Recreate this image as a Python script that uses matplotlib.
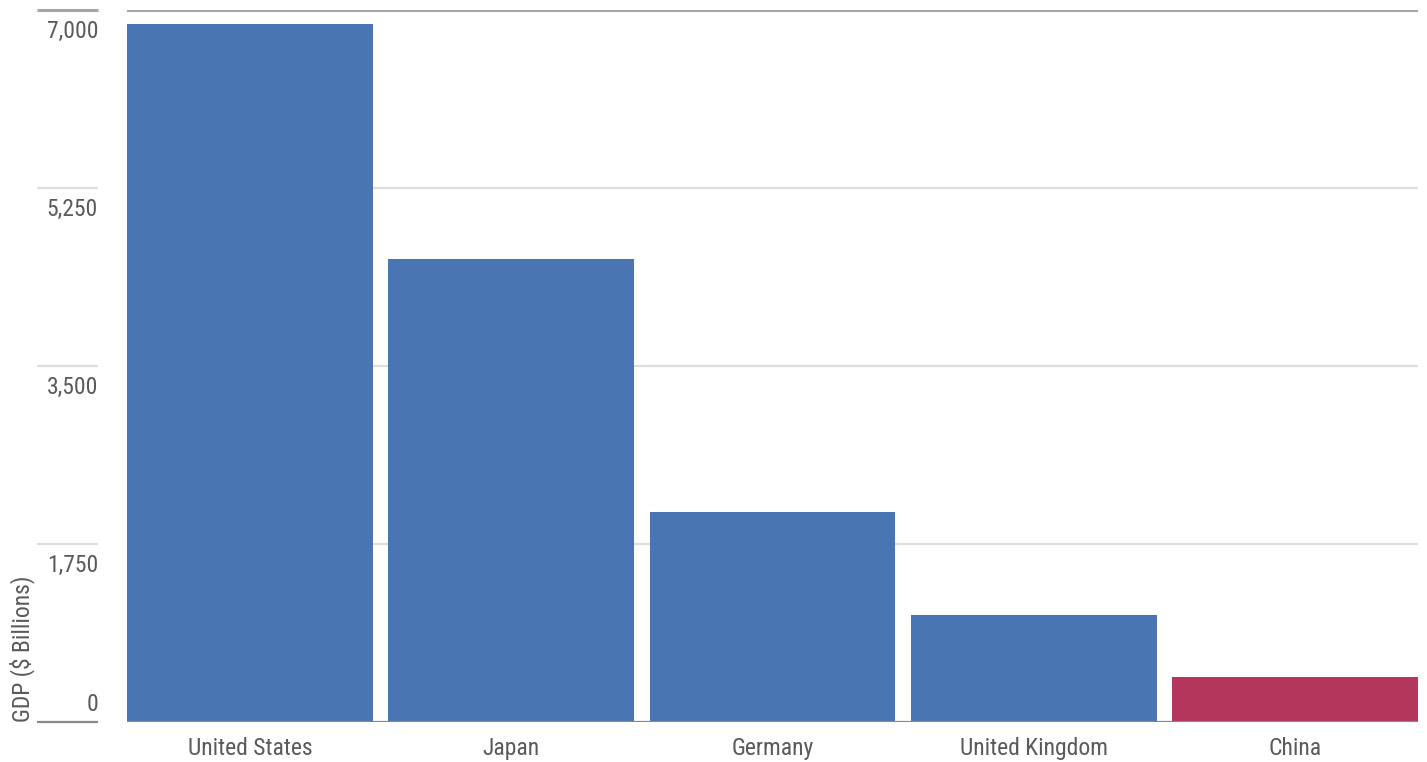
import matplotlib
matplotlib.use("Agg")
import matplotlib.pyplot as plt
from matplotlib.transforms import blended_transform_factory
from matplotlib import font_manager

countries = ["United States", "Japan", "Germany", "United Kingdom", "China"]
gdp_billions = [6860, 4550, 2065, 1055, 445]
bar_colors = ["#4471b1", "#4471b1", "#4471b1", "#4471b1", "#b32f58"]
y_ticks = [0, 1750, 3500, 5250, 7000]
y_tick_labels = ["0", "1,750", "3,500", "5,250", "7,000"]
y_title = "GDP ($ Billions)"

W, H = 1427, 762
names = {f.name for f in font_manager.fontManager.ttflist}
fams = [n for n in ["Roboto Condensed", "Liberation Sans Narrow"] if n in names]
plt.rcParams["font.family"] = fams + ["DejaVu Sans"]
plt.rcParams["font.stretch"] = "condensed"
text_color = "#5a5a5a"

fig = plt.figure(figsize=(W / 100, H / 100), dpi=100)
ax = fig.add_axes([127 / W, 1 - 722 / H, (1418 - 127) / W, (722 - 10) / H])

w = 0.94
ax.bar(range(len(countries)), gdp_billions, width=w, color=bar_colors,
       alpha=0.97, zorder=2, linewidth=0)
ax.set_xlim(-w / 2, len(countries) - 1 + w / 2)
ax.set_ylim(0, 7000)

for s in ax.spines.values():
    s.set_visible(False)

# horizontal grid across the plot and short segments in the left margin
trans = blended_transform_factory(fig.transFigure, ax.transData)
for v, lab in zip(y_ticks, y_tick_labels):
    if v == 7000:
        col, lw = "#a6a6a6", 2.2
    elif v == 0:
        col, lw = "#888888", 1.6
    else:
        col, lw = "#dddddd", 1.6
    ax.axhline(v, color=col, lw=lw, zorder=3 if v == 0 else 1)
    ax.plot([37 / W, 98 / W], [v, v], transform=trans, color=col, lw=lw,
            clip_on=False, solid_capstyle="butt")
    if v == 0:
        off, va = 6, "bottom"
    else:
        off, va = -10, "top"
    ax.annotate(lab, xy=(98 / W, v), xycoords=trans, xytext=(0, off),
                textcoords="offset pixels", ha="right", va=va,
                fontsize=17, color=text_color, annotation_clip=False)

ax.set_yticks([])
ax.set_xticks(range(len(countries)))
ax.set_xticklabels(countries, fontsize=17, color=text_color)
ax.tick_params(axis="x", length=0, pad=11)

fig.text(22 / W, 1 - 722 / H, y_title, rotation=90, ha="center", va="bottom",
         fontsize=17, color=text_color)

fig.savefig("out.png", dpi=100)
